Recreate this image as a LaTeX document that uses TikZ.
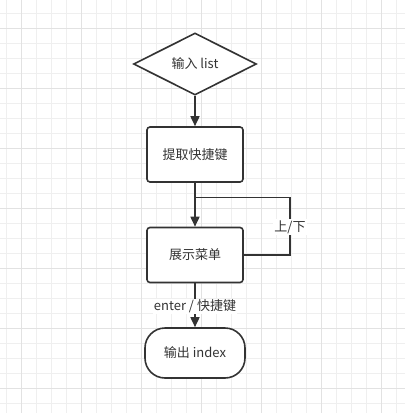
\documentclass[tikz,border=0pt]{standalone}
\usepackage{fontspec}
\setmainfont{Noto Sans CJK SC}
\usetikzlibrary{shapes.geometric,arrows.meta}
\definecolor{ink}{HTML}{333333}
\definecolor{gridminor}{HTML}{EFEFEF}
\definecolor{gridmajor}{HTML}{E2E2E2}
\begin{document}
\begin{tikzpicture}[x=1pt,y=-1pt,
  every node/.style={font=\fontsize{13}{15}\selectfont, text=ink},
  lineink/.style={draw=ink, line width=1.6pt},
  procbox/.style={lineink, rectangle, rounded corners=3pt, minimum width=96pt, minimum height=55pt, inner sep=0pt, fill=white},
  decbox/.style={lineink, diamond, aspect=2, minimum width=123pt, minimum height=62pt, inner sep=0pt, fill=white},
  termbox/.style={lineink, rectangle, rounded corners=20pt, minimum width=100pt, minimum height=50pt, inner sep=0pt, fill=white},
  arr/.style={lineink, -{Triangle[length=10pt,width=9pt]}},
  lbl/.style={fill=white, inner sep=1pt}
]
\useasboundingbox (0,0) rectangle (405,413);
\fill[white] (0,0) rectangle (405,413);
% grid
\foreach \i in {0,...,27} {
  \draw[gridminor, line width=0.8pt] (6.7+15*\i,0) -- (6.7+15*\i,413);
}
\foreach \i in {0,...,27} {
  \draw[gridminor, line width=0.8pt] (0,13.3+15*\i) -- (405,13.3+15*\i);
}
\foreach \i in {0,...,6} {
  \draw[gridmajor, line width=0.8pt] (21.7+60*\i,0) -- (21.7+60*\i,413);
  \draw[gridmajor, line width=0.8pt] (0,28.3+60*\i) -- (405,28.3+60*\i);
}
% nodes
\node[decbox] (input) at (195,64) {输入 list};
\node[procbox] (extract) at (195,154.5) {提取快捷键};
\node[procbox] (menu) at (195,255) {展示菜单};
\node[termbox] (output) at (195,353) {输出 index};
\coordinate (loopR) at (290,255);
\coordinate (loopT) at (290,197.5);
\coordinate (loopJ) at (195,197.5);
% connectors
\draw[arr] (input.south) -- (extract.north);
\draw[arr] (extract.south) -- (menu.north);
\draw[lineink] (menu.east |- loopR) -- (loopR) -- (loopT) -- (loopJ);
\node[lbl] (updown) at (290,227) {上/下};
\draw[arr] (menu.south) -- (output.north);
\node[lbl] (enterlbl) at (195,306.5) {enter / 快捷键};
\end{tikzpicture}
\end{document}
